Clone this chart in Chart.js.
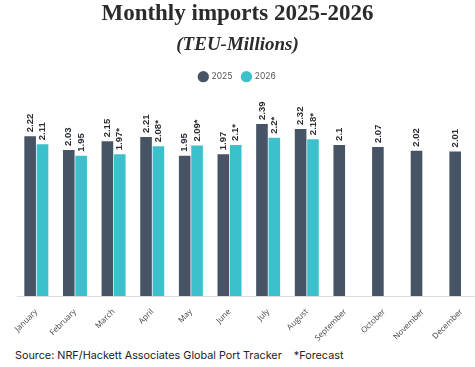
<!DOCTYPE html>
<html>
<head>
  <meta charset="utf-8">
  <title>Monthly imports</title>
  <script src="https://cdn.jsdelivr.net/npm/chart.js"></script>
  <style>
    body { margin: 0; background: #fff; overflow: hidden; width: 475px; height: 367px; }
    #wrap { position: absolute; left: 0; top: 0; width: 475px; height: 346px; }
    #source { position: absolute; left: 15px; top: 349px; font-family: "Inter", "Noto Sans", sans-serif; font-size: 10.8px; color: #222; white-space: pre; }
  </style>
</head>
<body>
  <div id="wrap"><canvas id="chart"></canvas></div>
  <div id="source">Source: NRF/Hackett Associates Global Port Tracker    *Forecast</div>

<script>
var months = ['January', 'February', 'March', 'April', 'May', 'June', 'July', 'August', 'September', 'October', 'November', 'December'];
var imports2025 = [2.22, 2.03, 2.15, 2.21, 1.95, 1.97, 2.39, 2.32, 2.1, 2.07, 2.02, 2.01];
var imports2026 = [2.11, 1.95, 1.97, 2.08, 2.09, 2.1, 2.2, 2.18, null, null, null, null];
var labels2025 = ['2.22', '2.03', '2.15', '2.21', '1.95', '1.97', '2.39', '2.32', '2.1', '2.07', '2.02', '2.01'];
var labels2026 = ['2.11', '1.95', '1.97*', '2.08*', '2.09*', '2.1*', '2.2*', '2.18*', '', '', '', ''];

function points(arr) {
  return arr.map(function(v, i) { return { x: i, y: v }; });
}

// vertical value labels above each bar
var valueLabels = {
  id: 'valueLabels',
  afterDatasetsDraw: function(chart) {
    var ctx = chart.ctx;
    var texts = [labels2025, labels2026];
    ctx.save();
    ctx.font = 'bold 9.5px "Liberation Sans Narrow", "Liberation Sans", Arial, sans-serif';
    ctx.fillStyle = '#2b2f36';
    ctx.textAlign = 'left';
    ctx.textBaseline = 'middle';
    chart.data.datasets.forEach(function(ds, i) {
      chart.getDatasetMeta(i).data.forEach(function(bar, j) {
        if (ds.data[j].y == null) return;
        ctx.save();
        ctx.translate(bar.x, bar.y - 4);
        ctx.rotate(-Math.PI / 2);
        ctx.fillText(texts[i][j], 0, 0);
        ctx.restore();
      });
    });
    ctx.restore();
  }
};

var chart = new Chart(document.getElementById('chart'), {
  type: 'bar',
  data: {
    datasets: [
      { label: '2025', data: points(imports2025), backgroundColor: '#475466' },
      { label: '2026', data: points(imports2026), backgroundColor: '#3cc1cc' }
    ]
  },
  options: {
    responsive: true,
    maintainAspectRatio: false,
    animation: false,
    categoryPercentage: 0.64,
    barPercentage: 0.94,
    layout: { padding: 0 },
    plugins: {
      title: {
        display: true,
        text: 'Monthly imports 2025-2026',
        color: '#2b2b2b',
        font: { family: '"Liberation Serif", serif', size: 23, weight: 'bold' },
        padding: { top: 0, bottom: 4 }
      },
      subtitle: {
        display: true,
        text: '(TEU-Millions)',
        color: '#2b2b2b',
        font: { family: '"Liberation Serif", serif', size: 19, weight: 'bold', style: 'italic' },
        padding: { top: 2, bottom: 6 }
      },
      legend: {
        labels: {
          usePointStyle: true,
          pointStyle: 'circle',
          boxWidth: 8,
          boxHeight: 8,
          color: '#555',
          font: { family: '"Inter", "Noto Sans", sans-serif', size: 8.5 }
        }
      },
      tooltip: { enabled: false }
    },
    scales: {
      x: {
        type: 'linear',
        offset: false,
        min: -0.5,
        max: 11.353,
        grid: { display: false },
        border: { color: '#dcdcdc' },
        ticks: {
          stepSize: 1,
          autoSkip: false,
          includeBounds: false,
          maxRotation: 45,
          minRotation: 45,
          color: '#444',
          font: { family: '"Open Sans", sans-serif', size: 8 },
          callback: function(v) {
            return Number.isInteger(v) && months[v] ? months[v] : '';
          }
        }
      },
      y: {
        min: 0,
        max: 2.85,
        ticks: { display: false },
        grid: { display: false },
        border: { display: false },
        afterFit: function(scale) { scale.width = 17; }
      }
    }
  },
  plugins: [valueLabels]
});
</script>
</body>
</html>
